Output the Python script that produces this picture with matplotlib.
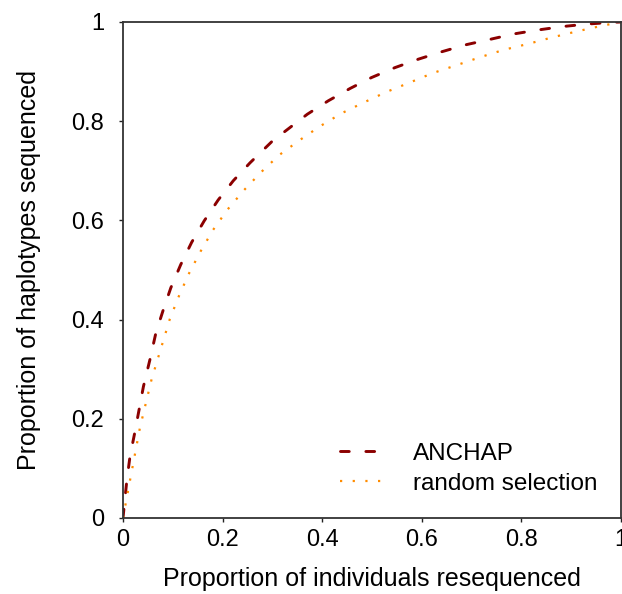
import matplotlib

matplotlib.use("Agg")

import matplotlib.pyplot as plt  # noqa: E402

plt.rcParams["font.family"] = ["Liberation Sans", "DejaVu Sans"]

# ANCHAP curve
anchap_x = [0.0, 0.0074, 0.014, 0.024, 0.041, 0.054, 0.066, 0.080, 0.096, 0.116,
            0.138, 0.163, 0.191, 0.2215, 0.255, 0.300, 0.370, 0.412, 0.456, 0.499,
            0.546, 0.593, 0.640, 0.688, 0.737, 0.785, 0.834, 0.884, 0.934, 0.985, 1.0]
anchap_y = [0.0, 0.073, 0.124, 0.174, 0.265, 0.319, 0.373, 0.417, 0.464, 0.511,
            0.556, 0.599, 0.641, 0.680, 0.716, 0.760, 0.814, 0.841, 0.866, 0.888,
            0.908, 0.925, 0.940, 0.954, 0.965, 0.976, 0.984, 0.991, 0.996, 0.9995, 1.0]

# random selection curve
random_x = [0.0, 0.0107, 0.034, 0.0575, 0.094, 0.1125, 0.1325, 0.156, 0.181, 0.210,
            0.243, 0.277, 0.314, 0.355, 0.396, 0.439, 0.484, 0.529, 0.576, 0.622,
            0.670, 0.717, 0.765, 0.814, 0.862, 0.911, 0.960, 0.985, 1.0]
random_y = [0.0, 0.058, 0.182, 0.280, 0.401, 0.448, 0.493, 0.538, 0.581, 0.622,
            0.661, 0.697, 0.732, 0.762, 0.790, 0.816, 0.838, 0.859, 0.878, 0.897,
            0.913, 0.929, 0.944, 0.956, 0.969, 0.981, 0.992, 0.997, 1.0]

ticks = [0, 0.2, 0.4, 0.6, 0.8, 1]
tick_labels = ["0", "0.2", "0.4", "0.6", "0.8", "1"]

fig = plt.figure(figsize=(6.22, 5.94), dpi=100)
ax = fig.add_axes([123 / 622, 76 / 594, 498 / 622, 496 / 594])

ax.plot(anchap_x, anchap_y, color="#8b0000", lw=2.1, dashes=(3.0, 5.7),
        dash_capstyle="round", label="ANCHAP")
ax.plot(random_x, random_y, color="#ff8c00", lw=1.6, dashes=(1, 4.7),
        label="random selection")

ax.set_xlim(0, 1)
ax.set_ylim(0, 1)
ax.set_xticks(ticks)
ax.set_xticklabels(tick_labels)
ax.set_yticks(ticks)
ax.set_yticklabels(tick_labels)
ax.tick_params(direction="out", length=3.2, width=1, colors="#222222",
               labelsize=17, labelcolor="black")
ax.tick_params(axis="x", pad=5)
ax.tick_params(axis="y", pad=10.5)
for s in ax.spines.values():
    s.set_linewidth(1.3)
    s.set_color("#333333")

ax.set_xlabel("Proportion of individuals resequenced", fontsize=18, labelpad=11)
ax.set_ylabel("Proportion of haplotypes sequenced", fontsize=18, labelpad=22)

ax.legend(loc="lower right", frameon=False, fontsize=17.5, handlelength=1.75,
          handletextpad=1.25, borderaxespad=0.55, labelspacing=0.33)

fig.savefig("out.png", dpi=100)
plt.close(fig)
